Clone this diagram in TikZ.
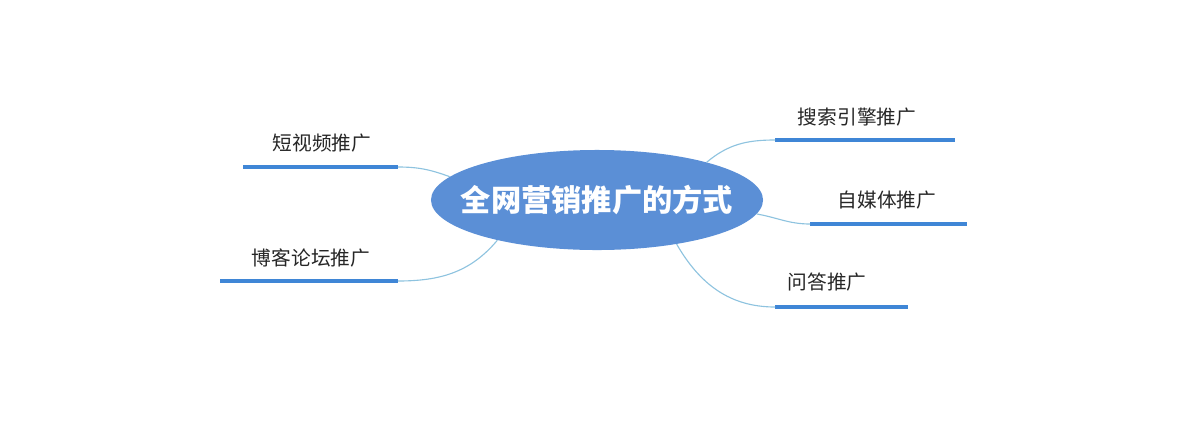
\documentclass[tikz,border=0pt]{standalone}
\usepackage{fontspec}
\setmainfont{Noto Sans CJK SC}
\usetikzlibrary{calc, shapes.geometric}
\definecolor{hubblue}{HTML}{5B8FD6}
\definecolor{lineblue}{HTML}{3F86D6}
\definecolor{linkblue}{HTML}{8EC3DF}
\tikzset{
  hub/.style={ellipse, fill=hubblue, inner sep=0pt, minimum width=8.3cm,
    minimum height=2.5cm},
  hubtext/.style={text=white, font=\fontsize{21.5}{26}\selectfont\bfseries},
  topic/.style={font=\fontsize{14}{17}\selectfont, text=black!85},
  bar/.style={line width=2.6pt, color=lineblue},
  link/.style={line width=0.8pt, color=linkblue}
}
\begin{document}
\begin{tikzpicture}[x=0.025cm, y=-0.025cm]
    \useasboundingbox (0,0) rectangle (1200,428);

    \node[hub] (hub) at (597,200) {};
    \node[hubtext] (title) at (hub.center) {全网营销推广的方式};

    % left branches
    \node[topic] (video) at (322,143) {短视频推广};
    \coordinate (videoL) at (243,167);
    \coordinate (videoR) at (398,167);
    \node[topic] (blog) at (311,258) {博客论坛推广};
    \coordinate (blogL) at (220,281);
    \coordinate (blogR) at (398,281);

    % right branches
    \node[topic] (search) at (857,117) {搜索引擎推广};
    \coordinate (searchL) at (775,140);
    \coordinate (searchR) at (955,140);
    \node[topic] (media) at (887,200) {自媒体推广};
    \coordinate (mediaL) at (810,224);
    \coordinate (mediaR) at (967,224);
    \node[topic] (qa) at (827,282) {问答推广};
    \coordinate (qaL) at (775,307);
    \coordinate (qaR) at (908,307);

    \foreach \b in {video,blog,search,media,qa}{
      \draw[bar] (\b L) -- (\b R);
    }

    \draw[link] (videoR) to[out=0, in=160] (hub.171);
    \draw[link] (blogR) to[out=0, in=-130] (hub.202);
    \draw[link] (searchL) to[out=180, in=40] (hub.19);
    \draw[link] (mediaL) to[out=180, in=-10] (hub.-5);
    \draw[link] (qaL) to[out=180, in=-60] (hub.-29);
\end{tikzpicture}
\end{document}
